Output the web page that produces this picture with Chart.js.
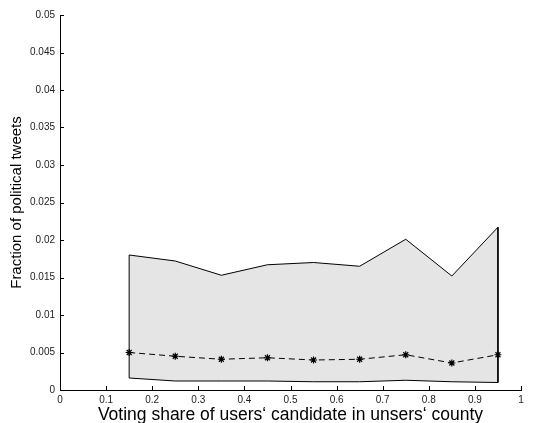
<!DOCTYPE html>
<html><head><meta charset="utf-8">
<script src="https://cdn.jsdelivr.net/npm/chart.js@4/dist/chart.umd.min.js"></script>
<style>html,body{margin:0;padding:0;background:#fff}#wrap{width:538px;height:423px}</style>
</head><body><div id="wrap"><canvas id="c" width="538" height="423"></canvas></div>
<script>
const xs = [0.15,0.25,0.35,0.45,0.55,0.65,0.75,0.85,0.95];
const upper = [0.0180,0.0172,0.0153,0.0167,0.0170,0.0165,0.0201,0.0152,0.0217];
const meanVals = [0.0050,0.0045,0.0041,0.0043,0.0040,0.0041,0.0047,0.0036,0.0047];
const lower = [0.0016,0.0012,0.0012,0.0012,0.0011,0.0011,0.0013,0.0011,0.0010];
const xTicks = [0,0.1,0.2,0.3,0.4,0.5,0.6,0.7,0.8,0.9,1];
const yTicks = [0,0.005,0.01,0.015,0.02,0.025,0.03,0.035,0.04,0.045,0.05];

const band = xs.map((x,i)=>({x, y: upper[i]}))
  .concat(xs.map((x,i)=>({x, y: lower[i]})).reverse());
band.push({x: xs[0], y: upper[0]});
const meanPts = xs.map((x,i)=>({x, y: meanVals[i]}));

const inwardTicks = {
  id:'inwardTicks',
  afterDatasetsDraw(chart){
    const {ctx, scales:{x,y}} = chart;
    ctx.save(); ctx.strokeStyle='#000'; ctx.lineWidth=1;
    ctx.beginPath();
    xTicks.forEach(v=>{const px=Math.round(x.getPixelForValue(v))+0.5; ctx.moveTo(px,y.bottom); ctx.lineTo(px,y.bottom-4);});
    yTicks.forEach(v=>{const py=Math.round(y.getPixelForValue(v))+0.5; ctx.moveTo(x.left,py); ctx.lineTo(x.left+4,py);});
    ctx.stroke(); ctx.restore();
  }
};

new Chart(document.getElementById('c'), {
  type:'scatter',
  data:{datasets:[
    {data: band, order:2, showLine:true, fill:'shape', backgroundColor:'#e5e5e5', borderColor:'#000', borderWidth:1, pointRadius:0, tension:0},
    {data: meanPts, order:1, showLine:true, fill:false, borderColor:'#000', borderWidth:1, borderDash:[6,4], pointStyle:'star', pointRadius:3.5, pointBorderColor:'#000', pointBorderWidth:1.2, tension:0}
  ]},
  options:{
    responsive:false, animation:false,
    layout:{padding:{top:15, right:17, left:0, bottom:0}},
    plugins:{legend:{display:false}, tooltip:{enabled:false}},
    scales:{
      x:{type:'linear', min:0, max:1,
        afterBuildTicks(s){ s.ticks = xTicks.map(v=>({value:v})); },
        afterFit(s){ s.height = 33; },
        grid:{display:true, drawOnChartArea:false, drawTicks:false},
        border:{display:true, color:'#000', width:1},
        ticks:{padding:4, color:'#222', font:{family:'Liberation Sans, Arial', size:10}, maxRotation:0, autoSkip:false,
          callback:v=>String(v)},
        title:{display:true, text:'Voting share of users‘ candidate in unsers‘ county', color:'#000',
          font:{family:'Liberation Sans, Arial', size:17.5}, padding:{top:0,bottom:-3}}
      },
      y:{type:'linear', min:0, max:0.05,
        afterBuildTicks(s){ s.ticks = yTicks.map(v=>({value:v})); },
        afterFit(s){ s.width = 60; },
        grid:{display:true, drawOnChartArea:false, drawTicks:false},
        border:{display:true, color:'#000', width:1},
        ticks:{padding:5, color:'#222', font:{family:'Liberation Sans, Arial', size:10}, autoSkip:false,
          callback:v=>String(+v.toFixed(3))},
        title:{display:true, text:'Fraction of political tweets', color:'#000',
          font:{family:'Liberation Sans, Arial', size:15}, padding:{top:8,bottom:0}}
      }
    }
  },
  plugins:[inwardTicks]
});
</script></body></html>
